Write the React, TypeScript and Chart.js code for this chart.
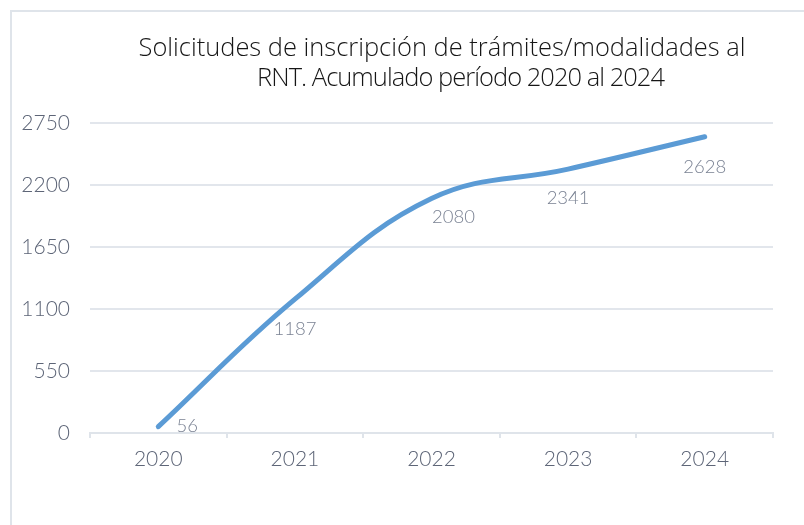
import React, { useEffect, useRef } from "react";
import { Chart, registerables } from "chart.js";

Chart.register(...registerables);

const categories = ["2020", "2021", "2022", "2023", "2024"];
const values = [56, 1187, 2080, 2341, 2628];
const yTicks = [0, 550, 1100, 1650, 2200, 2750];
const titleLines = [
  "Solicitudes de inscripción de trámites/modalidades al",
  "RNT. Acumulado período 2020 al 2024",
];

const FONT = "Lato";
const TITLE_FONT = "'Open Sans'";

export default function App() {
  const ref = useRef<HTMLCanvasElement | null>(null);

  useEffect(() => {
    document.body.style.margin = "0";
    const canvas = ref.current;
    if (!canvas) return;

    const labelOffsets = [
      { dx: 29, dy: -1 },
      { dx: 0, dy: 30 },
      { dx: 22, dy: 19 },
      { dx: 0, dy: 29 },
      { dx: 0, dy: 30 },
    ];

    const framePlugin = {
      id: "frame",
      beforeDraw(chart: any) {
        const ctx = chart.ctx;
        ctx.save();
        ctx.fillStyle = "#ffffff";
        ctx.fillRect(0, 0, chart.width, chart.height);
        ctx.strokeStyle = "#dfe4ea";
        ctx.lineWidth = 2;
        ctx.beginPath();
        ctx.moveTo(11, chart.height);
        ctx.lineTo(11, 11);
        ctx.lineTo(chart.width, 11);
        ctx.stroke();
        ctx.restore();
      },
      afterDraw(chart: any) {
        const ctx = chart.ctx;
        ctx.save();
        ctx.fillStyle = "#161616";
        ctx.font = `300 24px ${TITLE_FONT}`;
        const w = ctx.measureText(titleLines[0]).width;
        const size = Math.min(30, 24 * (607 / w));
        ctx.font = `300 ${size.toFixed(2)}px ${TITLE_FONT}`;
        ctx.textAlign = "center";
        ctx.textBaseline = "alphabetic";
        ctx.fillText(titleLines[0], 442, 56);
        const w2 = ctx.measureText(titleLines[1]).width;
        const n2 = titleLines[1].length;
        const ls = (407 - w2) / n2;
        if ("letterSpacing" in ctx) (ctx as any).letterSpacing = `${ls.toFixed(2)}px`;
        ctx.fillText(titleLines[1], 461 + ls / 2, 86);
        ctx.restore();
      },
    };

    const labelPlugin = {
      id: "pointLabels",
      afterDatasetsDraw(chart: any) {
        const ctx = chart.ctx;
        const meta = chart.getDatasetMeta(0);
        ctx.save();
        ctx.fillStyle = "#7a8293";
        ctx.font = `300 18.5px ${FONT}`;
        ctx.textAlign = "center";
        ctx.textBaseline = "middle";
        meta.data.forEach((pt: any, i: number) => {
          const o = labelOffsets[i] || { dx: 0, dy: 30 };
          ctx.fillText(String(values[i]), pt.x + o.dx, pt.y + o.dy);
        });
        ctx.restore();
      },
    };

    const chart = new Chart(canvas, {
      type: "line",
      data: {
        labels: categories,
        datasets: [
          {
            data: values,
            borderColor: "#5b9bd5",
            borderWidth: 5,
            borderCapStyle: "round",
            tension: 0.4,
            pointRadius: 0,
            fill: false,
          },
        ],
      },
      options: {
        animation: false,
        responsive: false,
        layout: { padding: { top: 123, left: 0, right: 31, bottom: 0 } },
        plugins: {
          legend: { display: false },
          title: { display: false },
          tooltip: { enabled: false },
        },
        scales: {
          x: {
            offset: true,
            grid: {
              offset: true,
              drawOnChartArea: false,
              drawTicks: true,
              tickLength: 5,
              color: "#dfe4ea",
              lineWidth: 2,
            },
            border: { display: true, color: "#dfe4ea", width: 2 },
            ticks: {
              color: "#5d6577",
              font: { family: FONT, size: 21, weight: "300" },
              padding: 9,
            },
            afterFit(scale: any) {
              scale.height = 92;
            },
          },
          y: {
            min: 0,
            max: 2750,
            afterBuildTicks(scale: any) {
              scale.ticks = yTicks.map((v) => ({ value: v }));
            },
            grid: {
              drawTicks: false,
              color: "#e2e6ec",
              lineWidth: 2,
            },
            border: { display: false },
            ticks: {
              color: "#5d6577",
              font: { family: FONT, size: 21, weight: "300" },
              padding: 20,
              callback: (v: any) => String(v),
            },
            afterFit(scale: any) {
              scale.width = 90;
            },
          },
        },
      },
      plugins: [framePlugin, labelPlugin],
    });

    return () => chart.destroy();
  }, []);

  return <canvas ref={ref} width={804} height={525} style={{ display: "block" }} />;
}
